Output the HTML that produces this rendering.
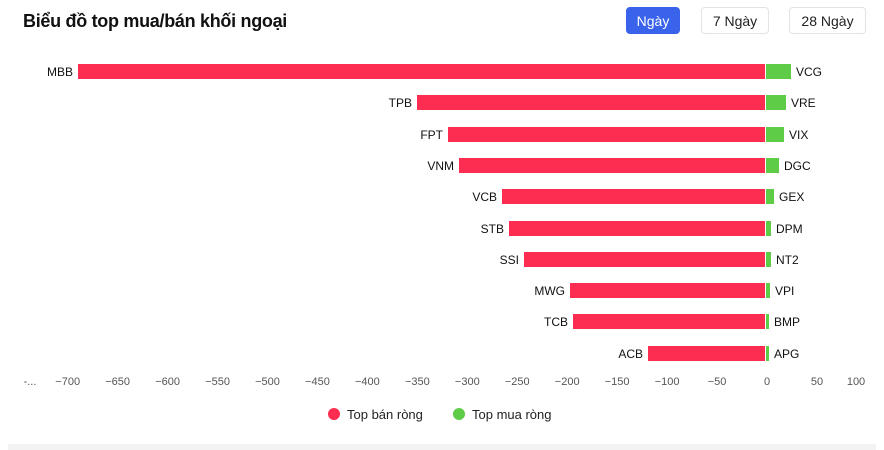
<!DOCTYPE html>
<html><head><meta charset="utf-8"><style>
body{margin:0;width:884px;height:450px;background:#fff;font-family:"Liberation Sans",sans-serif;position:relative;overflow:hidden}
.t{position:absolute;left:23px;top:11px;font-size:18px;font-weight:bold;color:#111;letter-spacing:-0.3px}
.b{position:absolute;top:7px;height:27px;border:1px solid #e3e3e3;border-radius:4px;font-size:14px;line-height:27px;text-align:center;color:#222;box-sizing:border-box}
.r,.g{position:absolute;height:15px}
.r{background:#fd2c51}.g{background:#5ecc47}
.l{position:absolute;font-size:12px;color:#111;line-height:14px}
.x{position:absolute;top:376px;font-size:11px;color:#555;transform:translateX(-50%)}
</style></head><body>
<div class="t">Biểu đồ top mua/bán khối ngoại</div>
<div class="b" style="left:626px;width:54px;background:#3a63ec;border-color:#3a63ec;color:#fff">Ngày</div>
<div class="b" style="left:701px;width:68px">7 Ngày</div>
<div class="b" style="left:789px;width:77px">28 Ngày</div>
<div id="c"></div>
<div style="position:absolute;left:328px;top:408px;width:12px;height:12px;border-radius:50%;background:#fd2c51"></div>
<div style="position:absolute;left:347px;top:407px;font-size:13px;color:#222">Top bán ròng</div>
<div style="position:absolute;left:453px;top:408px;width:12px;height:12px;border-radius:50%;background:#5ecc47"></div>
<div style="position:absolute;left:472px;top:407px;font-size:13px;color:#222">Top mua ròng</div>
<div style="position:absolute;left:8px;top:444px;width:868px;height:6px;background:#f3f3f3"></div>
<script>
var d=[["MBB",78,"VCG",791],["TPB",417,"VRE",786],["FPT",448,"VIX",784],["VNM",459,"DGC",779],["VCB",502,"GEX",774],["STB",509,"DPM",771],["SSI",524,"NT2",771],["MWG",570,"VPI",770],["TCB",573,"BMP",769],["ACB",648,"APG",769]];
var h="";
d.forEach(function(r,i){var y=Math.round(64+i*31.3);
h+='<div class="r" style="left:'+r[1]+'px;top:'+y+'px;width:'+(765-r[1])+'px"></div>';
h+='<div class="g" style="left:766px;top:'+y+'px;width:'+(r[3]-766)+'px"></div>';
h+='<div class="l" style="right:'+(884-r[1]+5)+'px;top:'+(y+1)+'px">'+r[0]+'</div>';
h+='<div class="l" style="left:'+(r[3]+5)+'px;top:'+(y+1)+'px">'+r[2]+'</div>';});
var t=[[30,"-..."]];for(var v=-700;v<=0;v+=50)t.push([767+v*0.999,(v<0?"−":"")+Math.abs(v)]);
t.push([817,"50"],[856,"100"]);
t.forEach(function(a){h+='<div class="x" style="left:'+a[0]+'px">'+a[1]+'</div>';});
document.getElementById("c").innerHTML=h;
</script>
</body></html>
